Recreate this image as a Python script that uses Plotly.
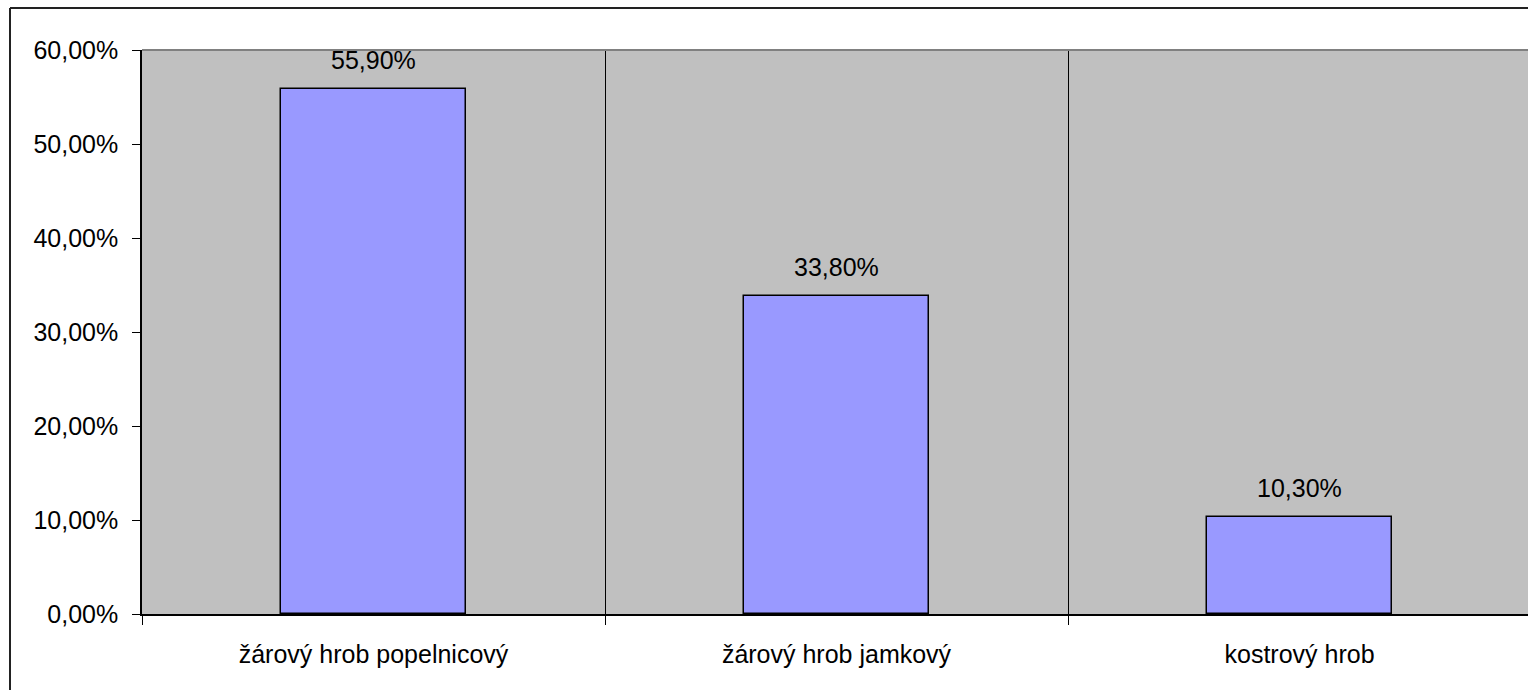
import plotly.graph_objects as go

categories = ["žárový hrob popelnicový", "žárový hrob jamkový", "kostrový hrob"]
values = [0.559, 0.338, 0.103]
y_ticks = [0, 0.1, 0.2, 0.3, 0.4, 0.5, 0.6]

xpos = [i + 0.5 for i in range(len(categories))]
FONT = "Liberation Sans, Arial, sans-serif"
FS = 25

fig = go.Figure()
fig.add_trace(go.Bar(
    x=xpos, y=values, width=0.4,
    marker=dict(color="#9999FF", line=dict(color="black", width=1.5)),
    hoverinfo="skip",
))

for x, v in zip(xpos, values):
    fig.add_annotation(
        x=x, y=v, xref="x", yref="y",
        text=f"{v*100:.2f}%".replace(".", ","),
        showarrow=False, yanchor="bottom", yshift=13,
        font=dict(family=FONT, size=FS, color="black"),
    )

fig.update_layout(
    width=1528, height=690,
    margin=dict(l=142, r=0, t=50, b=76),
    paper_bgcolor="white", plot_bgcolor="#C0C0C0",
    separators=",.",
    showlegend=False,
    font=dict(family=FONT, size=FS, color="black"),
    bargap=0,
)
fig.update_xaxes(
    range=[0, 2.9935], tickvals=xpos, ticktext=categories, ticks="",
    showgrid=False, zeroline=False, showline=True, linecolor="black", linewidth=1.5,
    tickfont=dict(family=FONT, size=FS, color="black"),
    minor=dict(tickvals=[0, 1, 2], ticks="outside", ticklen=9, tickcolor="black",
               tickwidth=1, showgrid=True, gridcolor="black", gridwidth=1),
    ticklabelstandoff=17,
)
fig.update_yaxes(
    range=[0, 0.6], tickvals=y_ticks, tickformat=".2%",
    ticks="outside", ticklen=8, tickcolor="black", tickwidth=1,
    showgrid=False, zeroline=False, showline=True, linecolor="black", linewidth=1.5,
    tickfont=dict(family=FONT, size=FS, color="black"),
    ticklabelstandoff=9,
)
# plot area top border
fig.add_shape(type="line", xref="paper", yref="paper", x0=0, x1=1, y0=1, y1=1,
              line=dict(color="#808080", width=2))
# outer chart border (only left and top edges fall inside the frame)
bx = (10 - 142) / 1386
by = (614 - 8) / 564
fig.add_shape(type="line", xref="paper", yref="paper", x0=bx, x1=1.0, y0=by, y1=by,
              line=dict(color="#222222", width=2))
fig.add_shape(type="line", xref="paper", yref="paper", x0=bx, x1=bx, y0=by, y1=-0.2,
              line=dict(color="#222222", width=2))

fig.write_html("out.html")
